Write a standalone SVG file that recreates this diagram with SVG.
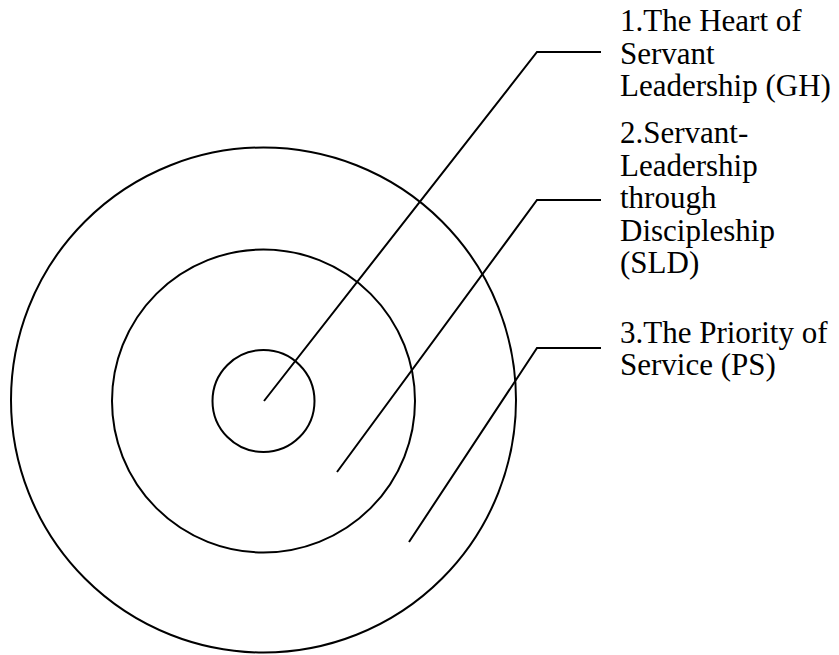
<svg xmlns="http://www.w3.org/2000/svg" width="839" height="655" viewBox="0 0 839 655">
<style>
.c{fill:none;stroke:#000;stroke-width:2}
.l{fill:none;stroke:#000;stroke-width:2}
text{font-family:"Liberation Serif","Times New Roman",serif;font-size:31px;fill:#000}
</style>
<rect width="839" height="655" fill="#fff"/>
<g id="outer"><circle class="c" cx="263.5" cy="400" r="252.5"/></g>
<g id="middle"><circle class="c" cx="263.5" cy="401" r="151.5"/></g>
<g id="inner"><circle class="c" cx="263.5" cy="401" r="51"/></g>
<g id="connectors">
<polyline class="l" points="264,401 537,52 601,52"/>
<polyline class="l" points="337,472 537,200 601,200"/>
<polyline class="l" points="409,542 537,348 601,348"/>
</g>
<g id="label1">
<text x="620" y="31">1.The Heart of</text>
<text x="620" y="63.5">Servant</text>
<text x="620" y="96">Leadership (GH)</text>
</g>
<g id="label2">
<text x="620" y="143">2.Servant-</text>
<text x="620" y="175.5">Leadership</text>
<text x="620" y="208">through</text>
<text x="620" y="240.5">Discipleship</text>
<text x="620" y="273">(SLD)</text>
</g>
<g id="label3">
<text x="620" y="343">3.The Priority of</text>
<text x="620" y="375">Service (PS)</text>
</g>
</svg>
